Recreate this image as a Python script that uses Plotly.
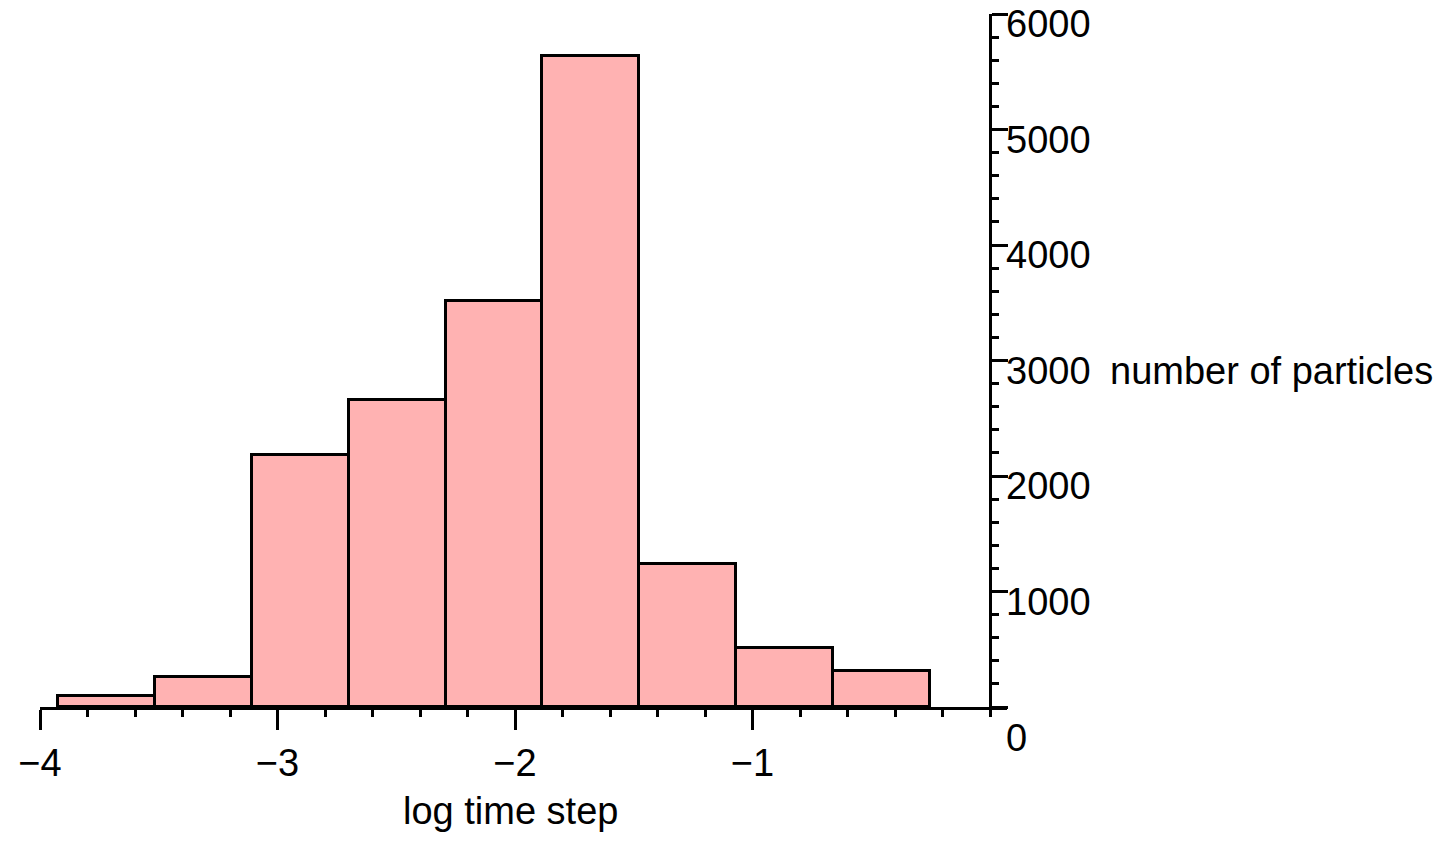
import plotly.graph_objects as go

# Data
bin_edges = [-3.924, -3.516, -3.107, -2.699, -2.291, -1.886, -1.478, -1.069, -0.661, -0.253]
counts = [95, 260, 2186, 2654, 3513, 5637, 1240, 512, 312]

x_tick_vals = [-4, -3, -2, -1]
x_tick_text = ["\u22124", "\u22123", "\u22122", "\u22121"]
y_tick_vals = [0, 1000, 2000, 3000, 4000, 5000, 6000]
y_tick_text = ["0", "1000", "2000", "3000", "4000", "5000", "6000"]

x_title = "log time step"
y_title = "number of particles"

centers = [(a + b) / 2 for a, b in zip(bin_edges[:-1], bin_edges[1:])]
widths = [b - a for a, b in zip(bin_edges[:-1], bin_edges[1:])]

FONT = "Liberation Sans, Arial, sans-serif"
FS = 38

fig = go.Figure()
fig.add_trace(go.Bar(
    x=centers, y=counts, width=widths,
    marker=dict(color="rgb(255,178,178)", line=dict(color="black", width=3)),
    hoverinfo="skip",
))

annotations = []
for v, t in zip(y_tick_vals, y_tick_text):
    annotations.append(dict(
        x=0, y=v, xref="x", yref="y", text=t, showarrow=False,
        xanchor="left", yanchor="middle", xshift=14,
        yshift=(-31 if v == 0 else -10),
        font=dict(family=FONT, size=FS, color="black"),
    ))
annotations.append(dict(
    x=0, y=3000, xref="x", yref="y", text=y_title, showarrow=False,
    xanchor="left", yanchor="middle", xshift=118, yshift=-10,
    font=dict(family=FONT, size=FS, color="black"),
))
annotations.append(dict(
    x=-2.02, y=0, xref="x", yref="y", text=x_title, showarrow=False,
    xanchor="center", yanchor="middle", yshift=-104,
    font=dict(family=FONT, size=FS, color="black"),
))

fig.update_layout(
    width=1443, height=842,
    margin=dict(l=40, r=436, t=14, b=135),
    paper_bgcolor="white", plot_bgcolor="white",
    showlegend=False,
    bargap=0,
    font=dict(family=FONT, size=FS, color="black"),
    xaxis=dict(
        range=[-4, 0.0716],
        showgrid=False, zeroline=False,
        showline=True, linecolor="black", linewidth=3,
        ticks="outside", ticklen=20, tickwidth=3, tickcolor="black",
        tickvals=x_tick_vals, ticktext=x_tick_text,
        tickfont=dict(family=FONT, size=FS, color="black"),
        minor=dict(dtick=0.2, tick0=0, ticks="outside", ticklen=7, tickwidth=3, tickcolor="black"),
    ),
    yaxis=dict(
        range=[0, 6000],
        anchor="free", position=950 / 967, side="right",
        showgrid=False, zeroline=False,
        showline=True, linecolor="black", linewidth=3,
        ticks="outside", ticklen=16, tickwidth=3, tickcolor="black",
        tickvals=y_tick_vals, showticklabels=False,
        minor=dict(dtick=200, tick0=0, ticks="outside", ticklen=7, tickwidth=3, tickcolor="black"),
    ),
    annotations=annotations,
)

fig.write_html("out.html")
